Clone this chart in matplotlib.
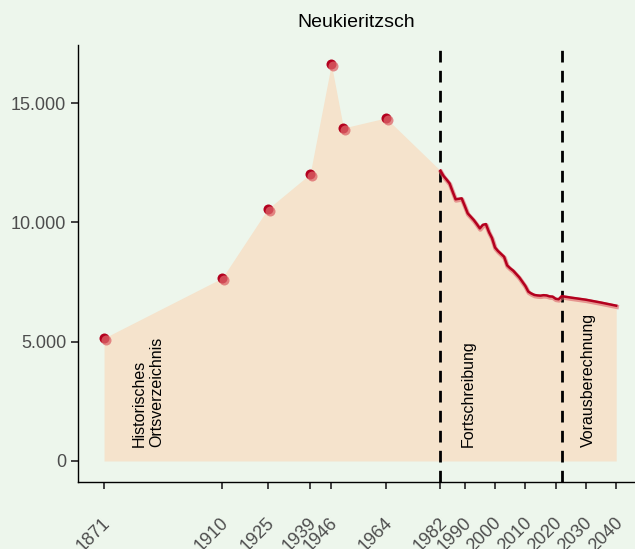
import matplotlib
matplotlib.use("Agg")
import matplotlib.pyplot as plt
import matplotlib.transforms as mtransforms
from matplotlib.ticker import FuncFormatter

plt.rcParams["font.family"] = ["Liberation Sans", "DejaVu Sans"]

# historical census values (Historisches Ortsverzeichnis)
hist_years = [1871, 1910, 1925, 1939, 1946, 1950, 1964]
hist_pop = [5150, 7670, 10560, 12030, 16640, 13960, 14380]

# yearly update (Fortschreibung)
upd_years = list(range(1982, 2023))
upd_pop = [12170, 11950, 11800, 11640, 11300, 10970, 10990, 11010, 10700, 10380,
           10240, 10100, 9930, 9750, 9900, 9930, 9600, 9350, 8950, 8800,
           8680, 8560, 8200, 8080, 7980, 7840, 7700, 7520, 7340, 7100,
           7020, 6960, 6940, 6930, 6950, 6940, 6900, 6890, 6800, 6780,
           6910]

# projection (Vorausberechnung)
proj_years = [2022, 2025, 2030, 2035, 2040]
proj_pop = [6910, 6850, 6760, 6640, 6510]

tick_years = [1871, 1910, 1925, 1939, 1946, 1964, 1982, 1990, 2000, 2010, 2020, 2030, 2040]
y_ticks = [0, 5000, 10000, 15000]
phase_breaks = [1982, 2022]

bg = "#edf6ec"
fill_col = "#f5e3cc"
dark_red = "#b3001e"
light_red = "#dc6468"

fig = plt.figure(figsize=(6.35, 5.49), dpi=100, facecolor=bg)
ax = fig.add_axes([0.1228, 0.1226, 0.8772, 0.796])
ax.set_facecolor(bg)

all_years = hist_years + upd_years + proj_years[1:]
all_pop = hist_pop + upd_pop + proj_pop[1:]
ax.fill_between(all_years, 0, all_pop, color=fill_col, lw=0, zorder=1)

for xb in phase_breaks:
    ax.axvline(xb, color="black", ls=(0, (4.2, 3)), lw=2, zorder=3)

# line with soft shadow
shadow = mtransforms.offset_copy(ax.transData, fig=fig, x=0.5, y=-1.2, units="dots")
line_years = upd_years + proj_years[1:]
line_pop = upd_pop + proj_pop[1:]
ax.plot(line_years, line_pop, color=light_red, lw=3.2, alpha=0.6, transform=shadow, zorder=4)
ax.plot(line_years, line_pop, color=dark_red, lw=1.8, zorder=5)

# points, drawn twice with a small offset
off = mtransforms.offset_copy(ax.transData, fig=fig, x=2, y=-2, units="dots")
ax.scatter(hist_years, hist_pop, s=52, color=dark_red, lw=0, zorder=6)
ax.scatter(hist_years, hist_pop, s=52, color=light_red, lw=0, alpha=0.75,
           transform=off, zorder=7)

ax.text(1885.5, 600, "Historisches\nOrtsverzeichnis", rotation=90, ha="center",
        va="bottom", fontsize=11.5, multialignment="left", zorder=8)
ax.text(1991.3, 600, "Fortschreibung", rotation=90, ha="center", va="bottom",
        fontsize=11.5, zorder=8)
ax.text(2030.9, 600, "Vorausberechnung", rotation=90, ha="center", va="bottom",
        fontsize=11.5, zorder=8)

ax.set_xlim(1862.4, 2046.2)
ax.set_ylim(-868, 17450)
ax.set_xticks(tick_years)
ax.set_xticklabels([str(y) for y in tick_years], rotation=45, ha="right",
                   rotation_mode="anchor")
ax.set_yticks(y_ticks)
ax.yaxis.set_major_formatter(FuncFormatter(lambda v, p: f"{int(v):,}".replace(",", ".")))

ax.tick_params(axis="both", colors="#333333", labelcolor="#4d4d4d", labelsize=13,
               length=5, width=1.3)
ax.tick_params(axis="x", pad=18.5)
for lab in ax.get_xticklabels():
    lab.set_transform(lab.get_transform() + mtransforms.ScaledTranslation(-1.5 / 72, 0, fig.dpi_scale_trans))
for s in ["top", "right"]:
    ax.spines[s].set_visible(False)
for s in ["left", "bottom"]:
    ax.spines[s].set_color("black")
    ax.spines[s].set_linewidth(1)

ax.set_title("Neukieritzsch", fontsize=14, pad=13)

fig.savefig("out.png", dpi=100, facecolor=bg)
